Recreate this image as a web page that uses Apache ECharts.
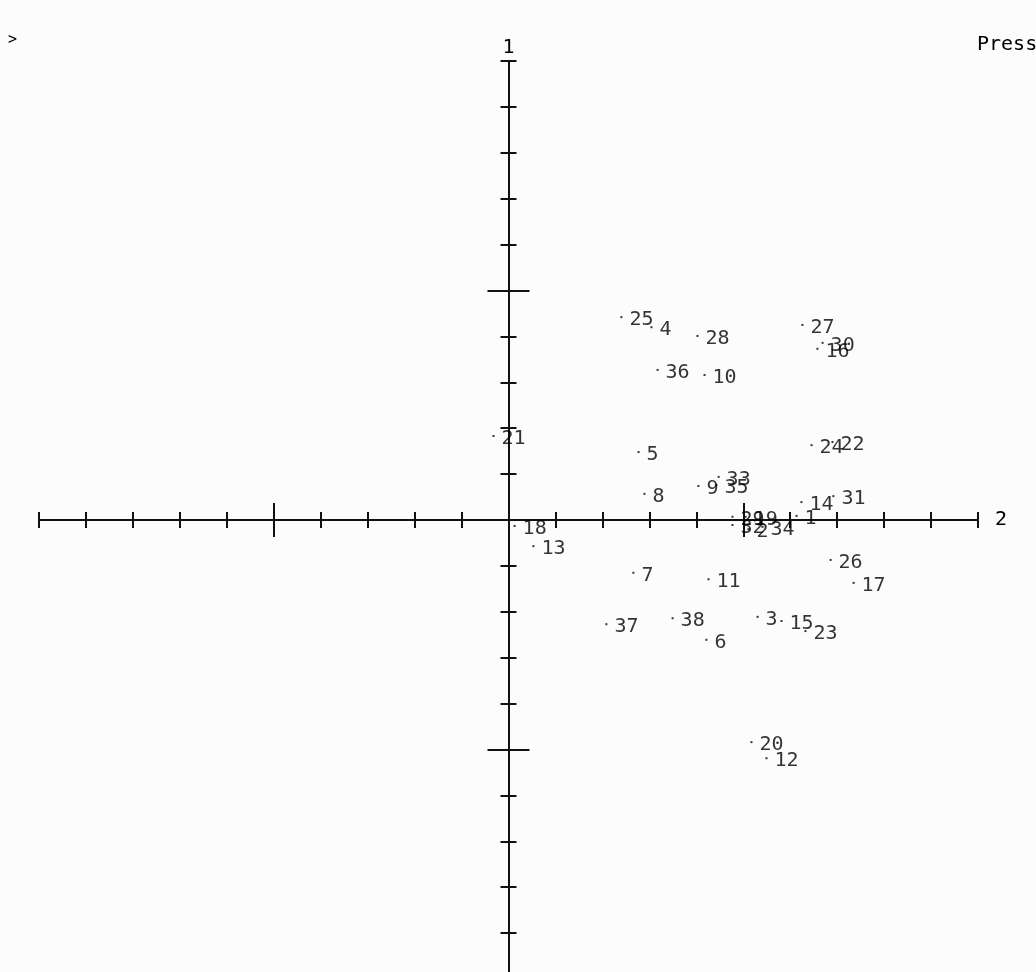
<!DOCTYPE html>
<html>
<head>
<meta charset="utf-8">
<script src="https://cdn.jsdelivr.net/npm/echarts@6/dist/echarts.min.js"></script>
<style>
html,body{margin:0;padding:0;background:#fcfcfc;}
#chart{width:1036px;height:972px;}
</style>
</head>
<body>
<div id="chart"></div>
<script>
const labels = ['1','2','3','4','5','6','7','8','9','10','11','12','13','14','15','16','17','18','19','20','21','22','23','24','25','26','27','28','29','30','31','32','33','34','35','36','37','38'];
const xValues = [1.227,1.022,1.061,0.609,0.554,0.843,0.532,0.579,0.809,0.835,0.852,1.099,0.106,1.248,1.163,1.316,1.470,0.026,1.010,1.035,-0.064,1.380,1.265,1.291,0.481,1.372,1.252,0.805,0.954,1.338,1.384,0.954,0.895,1.082,0.886,0.635,0.417,0.699];
const yValues = [0.009,-0.020,-0.211,0.420,0.148,-0.261,-0.115,0.057,0.074,0.316,-0.129,-0.519,-0.057,0.039,-0.220,0.373,-0.137,-0.013,0.007,-0.484,0.183,0.170,-0.242,0.163,0.442,-0.087,0.425,0.401,0.007,0.386,0.052,-0.011,0.094,-0.015,0.076,0.327,-0.227,-0.214];
const xMajorTicks = [-1, 1];
const yMajorTicks = [-0.5, 0.5];
const xAxisEndLabel = '2';
const yAxisEndLabel = '1';

const FONT = 'DejaVu Sans Mono';
const lineStyle = {color: '#111', width: 2};

function xAxisDef(pos, major, withName) {
  return {
    type: 'value', min: -2, max: 2, interval: 0.2, position: pos,
    axisLine: {show: true, onZero: true, onZeroAxisIndex: 0, lineStyle: lineStyle},
    axisTick: major ? {show: true, customValues: xMajorTicks, length: 17, lineStyle: lineStyle}
                    : {show: true, length: 8, lineStyle: lineStyle},
    axisLabel: {show: false},
    splitLine: {show: false},
    name: withName ? xAxisEndLabel : '',
    nameLocation: 'end', nameGap: 17,
    nameTextStyle: {fontFamily: FONT, fontSize: 20, color: '#000'}
  };
}
function yAxisDef(pos, major, withName) {
  return {
    type: 'value', min: -1, max: 1, interval: 0.1, position: pos,
    axisLine: {show: true, onZero: true, onZeroAxisIndex: 0, lineStyle: lineStyle},
    axisTick: major ? {show: true, customValues: yMajorTicks, length: 21, lineStyle: lineStyle}
                    : {show: true, length: 8, lineStyle: lineStyle},
    axisLabel: {show: false},
    splitLine: {show: false},
    name: withName ? yAxisEndLabel : '',
    nameLocation: 'end', nameGap: 3,
    nameTextStyle: {fontFamily: FONT, fontSize: 20, color: '#000'}
  };
}

const data = labels.map((l, i) => ({name: l, value: [xValues[i], yValues[i]]}));

const chart = echarts.init(document.getElementById('chart'), null, {renderer: 'canvas'});
chart.setOption({
  backgroundColor: '#fcfcfc',
  animation: false,
  title: [
    {text: '>', left: 3, top: 28, textStyle: {fontFamily: FONT, fontSize: 15, fontWeight: 'normal', color: '#000'}},
    {text: 'Press', left: 972, top: 30, textStyle: {fontFamily: FONT, fontSize: 20, fontWeight: 'normal', color: '#000'}}
  ],
  grid: {left: 39, right: 58, top: 61, bottom: -7, containLabel: false, outerBoundsMode: 'none'},
  xAxis: [xAxisDef('bottom', false, true), xAxisDef('top', false, false), xAxisDef('bottom', true, false), xAxisDef('top', true, false)],
  yAxis: [yAxisDef('left', false, true), yAxisDef('right', false, false), yAxisDef('left', true, false), yAxisDef('right', true, false)],
  series: [{
    type: 'scatter',
    xAxisIndex: 0, yAxisIndex: 0,
    symbol: 'rect',
    symbolSize: 2,
    itemStyle: {color: '#000'},
    label: {
      show: true, position: 'right', distance: 7, offset: [0, 3],
      formatter: '{b}', fontFamily: FONT, fontSize: 20, color: '#000'
    },
    emphasis: {disabled: true},
    data: data
  }]
});
</script>
</body>
</html>
